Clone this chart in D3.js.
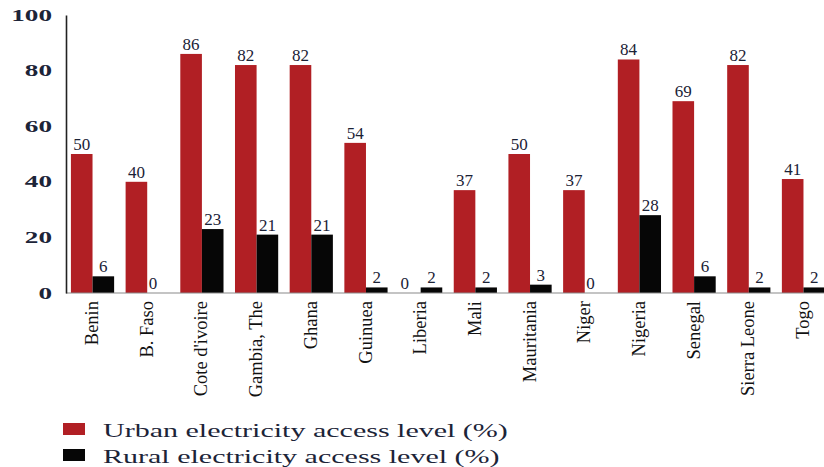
<!DOCTYPE html>
<html>
<head>
<meta charset="utf-8">
<script src="https://cdn.jsdelivr.net/npm/d3@7"></script>
<style>
  html, body { margin: 0; padding: 0; background: #fff; }
  svg { display: block; }
</style>
</head>
<body>
<svg id="chart" width="824" height="467"></svg>
<script>
const countries = ["Benin", "B. Faso", "Cote d'ivoire", "Gambia, The", "Ghana", "Guinuea", "Liberia", "Mali", "Mauritania", "Niger", "Nigeria", "Senegal", "Sierra Leone", "Togo"];
const urban = [50, 40, 86, 82, 82, 54, 0, 37, 50, 37, 84, 69, 82, 41];
const rural = [6, 0, 23, 21, 21, 2, 2, 2, 3, 0, 28, 6, 2, 2];
const seriesNames = ["Urban electricity access level (%)", "Rural electricity access level (%)"];
const seriesKeys = ["urban", "rural"];
const yTicks = [0, 20, 40, 60, 80, 100];

const colors = { urban: "#b11f24", rural: "#060606" };
const svg = d3.select("#chart");
const plotLeft = 66, plotRight = 830, plotTop = 15, plotBottom = 293;

const x = d3.scaleBand().domain(countries).range([plotLeft, plotRight]).paddingInner(0.21).paddingOuter(0.09);
const xs = d3.scaleBand().domain(seriesKeys).range([0, x.bandwidth()]).padding(0);
const y = d3.scaleLinear().domain([0, 100]).range([plotBottom, plotTop]);

const rows = countries.map((c, i) => ({ country: c, urban: urban[i], rural: rural[i] }));

// bars
const g = svg.append("g");
const groups = g.selectAll("g.grp").data(rows).join("g")
  .attr("class", "grp")
  .attr("transform", d => `translate(${x(d.country)},0)`);
groups.selectAll("rect").data(d => seriesKeys.map(k => ({ key: k, value: d[k] })))
  .join("rect")
  .attr("x", d => xs(d.key))
  .attr("width", xs.bandwidth())
  .attr("y", d => y(d.value))
  .attr("height", d => y(0) - y(d.value))
  .attr("fill", d => colors[d.key]);

// data labels
groups.selectAll("text").data(d => seriesKeys.map(k => ({ key: k, value: d[k] })))
  .join("text")
  .attr("x", d => xs(d.key) + xs.bandwidth() / 2 - (d.value === 0 ? 5 : 0))
  .attr("y", d => y(d.value) - 4)
  .attr("text-anchor", "middle")
  .attr("font-family", "Liberation Serif, Times New Roman, serif")
  .attr("font-size", 17)
  .attr("fill", "#1b2236")
  .text(d => d.value);

// baseline
svg.append("line").attr("x1", plotLeft).attr("x2", 824).attr("y1", y(0)).attr("y2", y(0))
  .attr("stroke", "#8a8a8a").attr("stroke-width", 1.2);
// y axis line
const yAxis = d3.axisLeft(y).tickValues(yTicks).tickSize(0).tickFormat("");
svg.append("g").attr("transform", `translate(${plotLeft},0)`).call(yAxis)
  .call(s => s.select(".domain").attr("stroke", "#222").attr("stroke-width", 1.6));

// y tick labels (horizontally stretched like reference)
svg.append("g").selectAll("text").data(yTicks).join("text")
  .attr("transform", d => `translate(52,${y(d)}) scale(1.65,1)`)
  .attr("text-anchor", "end")
  .attr("dy", "0.34em")
  .attr("font-family", "Liberation Serif, Times New Roman, serif")
  .attr("font-size", 16.5)
  .attr("font-weight", "bold")
  .attr("fill", "#1c2438")
  .text(d => d);

// x category labels
svg.append("g").selectAll("text").data(countries).join("text")
  .attr("transform", d => `translate(${x(d) + x.bandwidth() / 2},301) rotate(-90)`)
  .attr("text-anchor", "end")
  .attr("dy", "0.3em")
  .attr("font-family", "Liberation Serif, Times New Roman, serif")
  .attr("font-size", 18.5)
  .attr("fill", "#111")
  .text(d => d);

// legend
const leg = svg.append("g");
const legRows = leg.selectAll("g").data(seriesKeys).join("g")
  .attr("transform", (d, i) => `translate(63,${423 + i * 26})`);
legRows.append("rect").attr("width", 22).attr("height", 12).attr("fill", d => colors[d]);
legRows.append("text")
  .attr("transform", "translate(40,13.5) scale(1.58,1)")
  .attr("font-family", "Liberation Serif, Times New Roman, serif")
  .attr("font-size", 19)
  .attr("fill", "#1c2438")
  .text((d, i) => seriesNames[i]);
</script>
</body>
</html>
